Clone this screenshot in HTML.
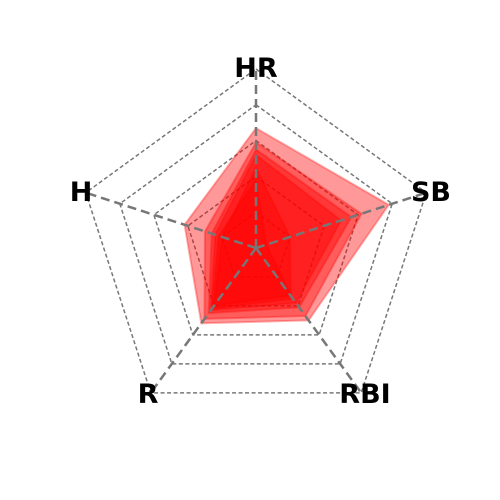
<!DOCTYPE html>
<html><head><meta charset="utf-8"><style>
html,body{margin:0;padding:0;background:#fff;width:500px;height:500px;overflow:hidden}
svg text{font-family:"DejaVu Sans","Liberation Sans",sans-serif;font-weight:bold;font-size:27px;fill:#000}
</style></head><body>
<svg id="chart" width="500" height="500" viewBox="0 0 500 500"></svg>
<script>
const categories = ["HR","SB","RBI","R","H"];
const seriesA = [0.67,0.78,0.50,0.52,0.42];
const seriesB = [0.59,0.62,0.47,0.49,0.30];
const seriesC = [0.55,0.56,0.41,0.45,0.26];
const seriesD = [0.38,0.06,0.35,0.42,0.22];
const seriesE = [0.52,0.50,0.38,0.43,0.24];
const seriesF = [0.45,0.20,0.33,0.40,0.20];
const seriesList = [seriesA,seriesB,seriesC,seriesE,seriesF,seriesD];
const ringLevels = [0.2,0.4,0.6,0.8,1.0];

const NS="http://www.w3.org/2000/svg";
const svg=document.getElementById('chart');
const cx=256, cy=248, R=179;
function ang(i){return -Math.PI/2 + i*2*Math.PI/categories.length;}
function px(i,v){return cx+Math.cos(ang(i))*R*v;}
function py(i,v){return cy+Math.sin(ang(i))*R*v;}
function mk(tag,attrs){const e=document.createElementNS(NS,tag);for(const k in attrs)e.setAttribute(k,attrs[k]);svg.appendChild(e);return e;}

ringLevels.forEach((lv,j)=>{
  const pts=categories.map((c,i)=>px(i,lv)+','+py(i,lv)).join(' ');
  const e=mk('polygon',{points:pts,fill:'none',stroke:'#777','stroke-width':1.5,'stroke-dasharray':'4,2.5'});
  
  
});
seriesList.forEach((s,k)=>{
  const pts=s.map((v,i)=>px(i,v)+','+py(i,v)).join(' ');
  const e=mk('polygon',{points:pts,fill:'rgba(255,0,0,0.4)',stroke:'rgba(255,0,0,0.3)','stroke-width':2});
  
  
});
categories.forEach((c,i)=>{
  const e=mk('line',{x1:cx,y1:cy,x2:px(i,1),y2:py(i,1),stroke:'#777','stroke-width':2.5,'stroke-dasharray':'9,5'});
  
  
});
const labelPos=[[256,77],[431,201],[365,403],[148,403],[81,201]];
categories.forEach((c,i)=>{
  const t=mk('text',{x:labelPos[i][0],y:labelPos[i][1],'text-anchor':'middle'});
  t.textContent=c;
  
  
});
</script>
</body></html>
